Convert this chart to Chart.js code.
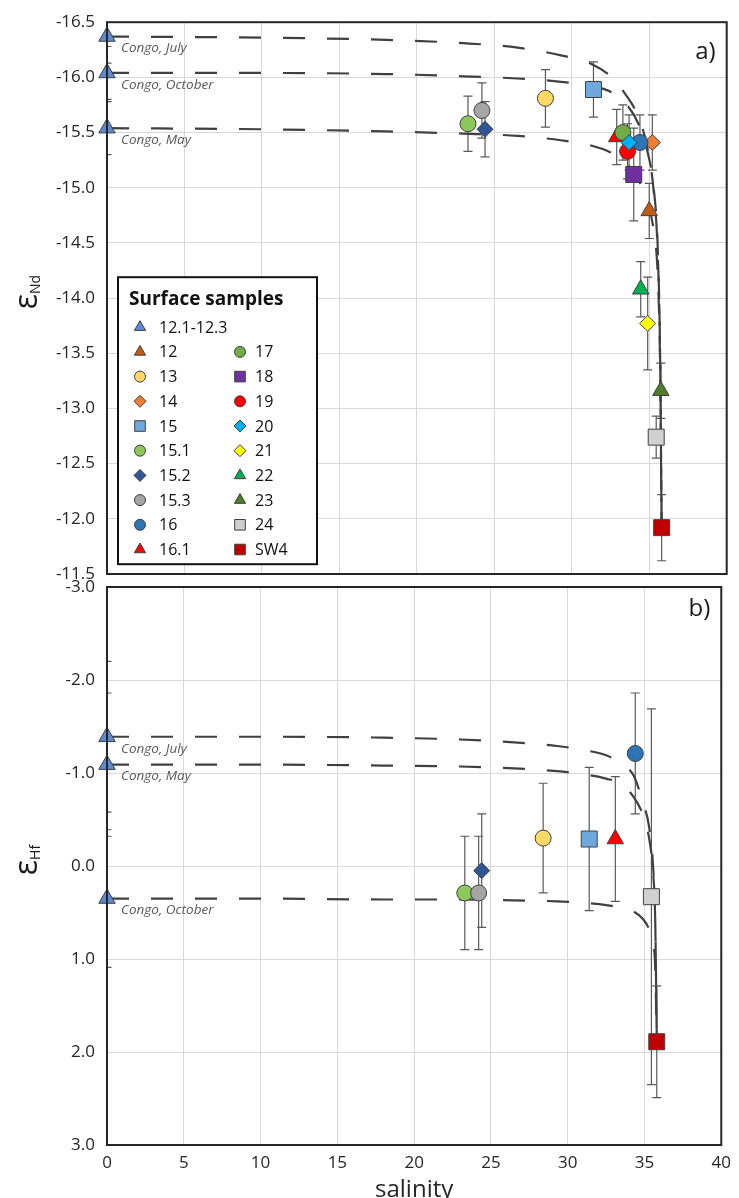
<!DOCTYPE html>
<html>
<head>
<meta charset="utf-8">
<script src="https://cdn.jsdelivr.net/npm/chart.js"></script>
<style>
  body { margin: 0; background: #fff; overflow: hidden; }
  canvas { position: absolute; left: 0; }
  #chartNd { top: 0; }
  #chartHf { top: 557px; }
</style>
</head>
<body>
<canvas id="chartNd" width="739" height="604"></canvas>
<canvas id="chartHf" width="739" height="645"></canvas>
<script>
// samples (one entry per legend item)
const sampleNames = ["12.1-12.3", "12", "13", "14", "15", "15.1", "15.2", "15.3", "16", "16.1",
                     "17", "18", "19", "20", "21", "22", "23", "24", "SW4"];

// eNd vs salinity
const ndSalinity = [[0, 0, 0], [35.0], [28.3], [35.2], [31.4], [23.3], [24.4], [24.2], [34.4], [32.9],
                    [33.3], [34.0], [33.6], [33.7], [34.9], [34.45], [35.75], [35.45], [35.8]];
const ndValue = [[-16.37, -16.04, -15.54], [-14.79], [-15.81], [-15.41], [-15.89], [-15.58], [-15.53], [-15.70], [-15.41], [-15.46],
                 [-15.50], [-15.12], [-15.33], [-15.41], [-13.77], [-14.08], [-13.16], [-12.74], [-11.92]];
const ndError = [[0.24, 0.24, 0.24], [0.25], [0.26], [0.25], [0.25], [0.25], [0.25], [0.25], [0.25], [0.25],
                 [0.25], [0.42], [0.25], [0.25], [0.42], [0.25], [0.25], [0.19], [0.30]];

// eHf vs salinity
const hfSalinity = [[0, 0, 0], [], [28.4], [], [31.4], [23.3], [24.4], [24.2], [34.4], [33.1],
                    [], [], [], [], [], [], [], [35.45], [35.8]];
const hfValue = [[-1.39, -1.09, 0.35], [], [-0.30], [], [-0.29], [0.29], [0.05], [0.29], [-1.21], [-0.29],
                 [], [], [], [], [], [], [], [0.33], [1.89]];
const hfError = [[0.81, 0.77, 0.74], [], [0.59], [], [0.77], [0.61], [0.61], [0.61], [0.65], [0.67],
                 [], [], [], [], [], [], [], [2.02], [0.60]];

// Congo end-member labels
const ndCongoLabels = ["Congo, July", "Congo, October", "Congo, May"];
const hfCongoLabels = ["Congo, July", "Congo, May", "Congo, October"];

// mixing curves
const mixSalinity = [0, 10, 18, 23, 26.5, 29.3, 31.3, 32.5, 33.5, 34.3, 34.9, 35.3, 35.55, 35.7, 35.8];
const ndMixJuly = [-16.37, -16.36, -16.34, -16.31, -16.27, -16.20, -16.12, -16.01, -15.84, -15.64, -15.35, -14.95, -14.4, -13.5, -11.92];
const ndMixOctober = [-16.04, -16.04, -16.03, -16.01, -15.99, -15.96, -15.92, -15.87, -15.76, -15.58, -15.32, -14.98, -14.45, -13.5, -11.92];
const ndMixMay = [-15.54, -15.53, -15.51, -15.49, -15.47, -15.43, -15.38, -15.32, -15.22, -15.07, -14.86, -14.6, -14.2, -13.4, -11.92];
const hfMixJuly = [-1.39, -1.39, -1.38, -1.36, -1.33, -1.29, -1.24, -1.19, -1.10, -0.97, -0.68, -0.42, -0.02, 0.6, 1.89];
const hfMixMay = [-1.09, -1.09, -1.08, -1.07, -1.05, -1.02, -0.98, -0.94, -0.88, -0.74, -0.55, -0.30, 0.05, 0.6, 1.89];
const hfMixOctober = [0.35, 0.35, 0.36, 0.36, 0.37, 0.38, 0.40, 0.42, 0.45, 0.49, 0.57, 0.68, 0.82, 1.1, 1.89];

// marker styles
const sampleMarkers = ['triangle', 'triangle', 'circle', 'rectRot', 'rect', 'circle', 'rectRot', 'circle', 'circle', 'triangle',
                       'circle', 'rect', 'circle', 'rectRot', 'rectRot', 'triangle', 'triangle', 'rect', 'rect'];
const sampleColors = ['#5b8bd3', '#c55a11', '#ffd966', '#ed7d31', '#6fa8dc', '#8cc85a', '#2f5597', '#a5a5a5', '#2e75b6', '#ff0000',
                      '#70ad47', '#7030a0', '#ff0000', '#00b0f0', '#ffff00', '#00b050', '#4d7c2a', '#d0d0d0', '#c00000'];
const markerSize = { triangle: 9.5, circle: 8, rect: 11.3, rectRot: 8 };
const legendSize = { triangle: 6.5, circle: 5.5, rect: 7.5, rectRot: 6 };

const FONT = '"Open Sans", sans-serif';

function sampleSets(sal, val, err) {
  const sets = [];
  sampleNames.forEach((name, i) => {
    if (!sal[i].length) return;
    sets.push({
      label: name,
      data: sal[i].map((s, k) => ({ x: s, y: val[i][k] })),
      errors: err[i],
      pointStyle: sampleMarkers[i],
      pointRadius: markerSize[sampleMarkers[i]],
      pointHoverRadius: markerSize[sampleMarkers[i]],
      backgroundColor: sampleColors[i],
      borderColor: '#404040',
      borderWidth: 1,
      clip: false,
      order: -i
    });
  });
  return sets;
}

function mixSet(values) {
  return {
    data: mixSalinity.map((s, i) => ({ x: s, y: values[i] })),
    showLine: true,
    borderColor: '#404040',
    borderWidth: 2.2,
    borderDash: [22, 22],
    pointRadius: 0,
    cubicInterpolationMode: 'monotone',
    order: 1000
  };
}

const errorBars = {
  id: 'errorBars',
  beforeDatasetsDraw(chart) {
    const { ctx, chartArea: a, scales: { x, y } } = chart;
    ctx.save();
    ctx.beginPath();
    ctx.rect(a.left, a.top, a.width, a.height);
    ctx.clip();
    ctx.strokeStyle = '#595959';
    ctx.lineWidth = 1.2;
    chart.data.datasets.forEach(ds => {
      if (!ds.errors) return;
      ds.data.forEach((p, i) => {
        const e = ds.errors[i];
        const px = x.getPixelForValue(p.x);
        const y1 = y.getPixelForValue(p.y - e);
        const y2 = y.getPixelForValue(p.y + e);
        ctx.beginPath();
        ctx.moveTo(px, y1); ctx.lineTo(px, y2);
        ctx.moveTo(px - 4.5, y1); ctx.lineTo(px + 4.5, y1);
        ctx.moveTo(px - 4.5, y2); ctx.lineTo(px + 4.5, y2);
        ctx.stroke();
      });
    });
    ctx.restore();
  }
};

const panelDecor = {
  id: 'panelDecor',
  afterDatasetsDraw(chart, args, opts) {
    const { ctx, chartArea: a, scales: { x, y } } = chart;
    ctx.save();
    // Congo labels
    ctx.font = 'italic 13.5px ' + FONT;
    ctx.fillStyle = '#595959';
    ctx.textBaseline = 'middle';
    ctx.textAlign = 'left';
    opts.labels.forEach((t, i) => {
      ctx.fillText(t, x.getPixelForValue(0) + 14, y.getPixelForValue(opts.values[i]) + 12);
    });
    // frame
    ctx.strokeStyle = '#262626';
    ctx.lineWidth = 2;
    ctx.strokeRect(a.left, a.top, a.width, a.height);
    // panel tag
    ctx.fillStyle = '#1a1a1a';
    ctx.font = '24px ' + FONT;
    ctx.textAlign = 'right';
    ctx.fillText(opts.tag, a.right - 11, a.top + opts.tagY);
    // y title: epsilon with subscript
    ctx.translate(37, (a.top + a.bottom) / 2 - 6);
    ctx.rotate(-Math.PI / 2);
    ctx.textBaseline = 'alphabetic';
    ctx.textAlign = 'left';
    ctx.font = '32px ' + FONT;
    const wE = ctx.measureText('ε').width;
    ctx.font = '14px ' + FONT;
    const wS = ctx.measureText(opts.sub).width;
    const x0 = -(wE + wS) / 2;
    ctx.font = '32px ' + FONT;
    ctx.fillText('ε', x0, 0);
    ctx.font = '14px ' + FONT;
    ctx.fillText(opts.sub, x0 + wE, 3);
    ctx.restore();
  }
};

const sampleLegend = {
  id: 'sampleLegend',
  afterDraw(chart, args, opts) {
    if (!opts.show) return;
    const { ctx, chartArea: a } = chart;
    const left = a.left + 11, top = a.top + 255, w = 199, h = 287;
    ctx.save();
    ctx.fillStyle = '#fff';
    ctx.fillRect(left, top, w, h);
    ctx.strokeStyle = '#111';
    ctx.lineWidth = 2;
    ctx.strokeRect(left, top, w, h);
    ctx.fillStyle = '#111';
    ctx.textBaseline = 'middle';
    ctx.font = 'bold 19px ' + FONT;
    ctx.fillText('Surface samples', left + 11, top + 22);
    ctx.font = '16px ' + FONT;
    sampleNames.forEach((name, i) => {
      const col = i < 10 ? 0 : 1;
      const row = i < 10 ? i : i - 9;
      const cx = left + (col ? 122 : 22);
      const cy = top + 50 + row * 24.7;
      ctx.fillStyle = sampleColors[i];
      ctx.strokeStyle = '#404040';
      ctx.lineWidth = 1;
      Chart.helpers.drawPoint(ctx, { pointStyle: sampleMarkers[i], radius: legendSize[sampleMarkers[i]], rotation: 0, borderWidth: 1 }, cx, cy);
      ctx.fillStyle = '#111';
      ctx.fillText(name, cx + (col ? 15 : 19), cy + 1);
    });
    ctx.restore();
  }
};

function makeChart(id, opt) {
  return new Chart(document.getElementById(id), {
    type: 'scatter',
    data: { datasets: opt.datasets },
    options: {
      responsive: false,
      animation: false,
      devicePixelRatio: 1,
      layout: { padding: opt.padding },
      plugins: {
        legend: { display: false },
        tooltip: { enabled: false },
        panelDecor: opt.decor,
        sampleLegend: { show: opt.legend }
      },
      scales: {
        x: {
          type: 'linear', min: 0, max: 40,
          border: { display: false },
          grid: { color: '#d9d9d9', drawTicks: false },
          ticks: { display: opt.xTicks, stepSize: 5, padding: 8, color: '#262626', font: { family: FONT, size: 17 } },
          title: { display: opt.xTicks, text: 'salinity', color: '#262626', padding: 0, font: { family: FONT, size: 24, lineHeight: 1.0 } },
          afterFit(s) { s.height = opt.xHeight; }
        },
        y: {
          type: 'linear', min: opt.yMin, max: opt.yMax, reverse: true,
          border: { display: false },
          grid: { color: '#d9d9d9', drawTicks: false },
          ticks: { stepSize: opt.yStep, padding: 12, color: '#262626', font: { family: FONT, size: 17 },
                   callback: v => v.toFixed(1) },
          afterFit(s) { s.width = 107; }
        }
      }
    },
    plugins: [errorBars, panelDecor, sampleLegend]
  });
}

makeChart('chartNd', {
  datasets: sampleSets(ndSalinity, ndValue, ndError).concat([mixSet(ndMixJuly), mixSet(ndMixOctober), mixSet(ndMixMay)]),
  padding: { top: 21, right: 12, bottom: 30, left: 0 },
  xTicks: false, xHeight: 0,
  yMin: -16.5, yMax: -11.5, yStep: 0.5,
  legend: true,
  decor: { labels: ndCongoLabels, values: ndValue[0], tag: 'a)', tagY: 30, sub: 'Nd' }
});

makeChart('chartHf', {
  datasets: sampleSets(hfSalinity, hfValue, hfError).concat([mixSet(hfMixJuly), mixSet(hfMixMay), mixSet(hfMixOctober)]),
  padding: { top: 30, right: 12, bottom: 0, left: 0 },
  xTicks: true, xHeight: 57,
  yMin: -3, yMax: 3, yStep: 1,
  legend: false,
  decor: { labels: hfCongoLabels, values: hfValue[0], tag: 'b)', tagY: 22, sub: 'Hf' }
});
</script>
</body>
</html>
